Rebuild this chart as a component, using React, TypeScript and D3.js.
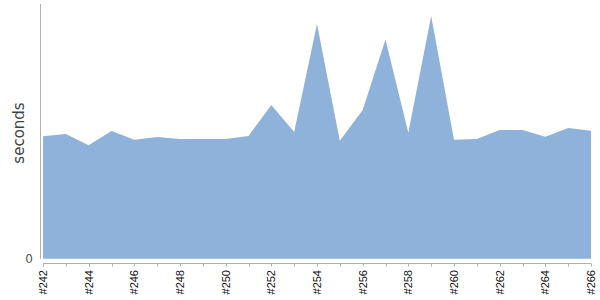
import React from "react";
import * as d3 from "d3";

const builds = [242,243,244,245,246,247,248,249,250,251,252,253,254,255,256,257,258,259,260,261,262,263,264,265,266];
const seconds = [61.2,62.3,56.7,63.8,59.5,60.8,59.8,59.8,59.8,61.3,76.8,63.3,117.3,59,74.3,109.5,63,121.3,59.5,59.8,64.3,64.3,61,65.3,64];
const yTicks = [0];
const yMax = 127.3;

export default function App() {
  const W = 600, H = 300;
  const x = d3.scaleLinear().domain([242, 266]).range([43, 591]);
  const y = d3.scaleLinear().domain([0, yMax]).range([258.7, 4]);
  const data = builds.map((b, i) => ({ b, v: seconds[i] }));
  const area = d3.area<{ b: number; v: number }>()
    .x(d => x(d.b))
    .y0(y(0))
    .y1(d => y(d.v));
  const axisY = 263.5;
  return (
    <svg width={W} height={H} style={{ position: "absolute", left: 0, top: 0 }}>
      <path d={area(data) || ""} fill="#8fb2da" />
      <line x1={40.5} x2={40.5} y1={4} y2={258.7} stroke="#b0b0b0" />
      <line x1={x(242)} x2={x(266)} y1={axisY} y2={axisY} stroke="#b0b0b0" />
      {builds.map(b => (
        <line key={b} x1={Math.round(x(b)) + 0.5} x2={Math.round(x(b)) + 0.5} y1={axisY} y2={axisY + 3} stroke="#b0b0b0" />
      ))}
      {builds.filter(b => b % 2 === 0).map(b => (
        <text key={b} transform={`translate(${x(b) + 4},${270}) rotate(-90)`} textAnchor="end"
          fontFamily="Liberation Sans, Arial, sans-serif" fontSize={11} fill="#111">{`#${b}`}</text>
      ))}
      {yTicks.map(t => (
        <text key={t} x={33} y={y(t)} dy="0.36em" textAnchor="end"
          fontFamily="DejaVu Sans, sans-serif" fontSize={12} fill="#555">{t}</text>
      ))}
      <text transform={`translate(${19},${133}) rotate(-90)`} textAnchor="middle"
        fontFamily="DejaVu Sans, sans-serif" fontSize={15} fill="#444" dy="0.35em">seconds</text>
    </svg>
  );
}
